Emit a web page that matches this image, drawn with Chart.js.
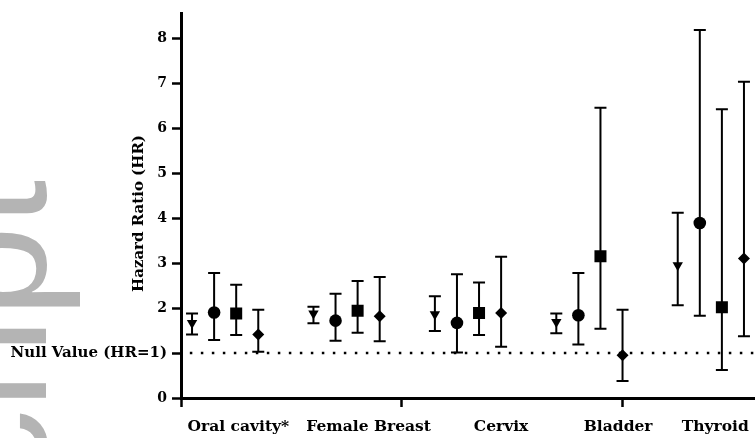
<!DOCTYPE html>
<html>
<head>
<meta charset="utf-8">
<script src="https://cdn.jsdelivr.net/npm/chart.js@4"></script>
<style>
  html, body { margin: 0; padding: 0; background: #fff; }
  #wrap { width: 755px; height: 438px; position: relative; }
</style>
</head>
<body>
<div id="wrap"><canvas id="chart"></canvas></div>
<script>
// --- data ---
const categories = ['Oral cavity*', 'Female Breast', 'Cervix', 'Bladder', 'Thyroid'];
const yTicks = [0, 1, 2, 3, 4, 5, 6, 7, 8];
const nullLabel = 'Null Value (HR=1)';

// series 1 (down triangle)
const s1Hr = [1.67, 1.88, 1.86, 1.69, 2.95];
const s1Lo = [1.41, 1.66, 1.49, 1.44, 2.06];
const s1Hi = [1.88, 2.03, 2.26, 1.88, 4.12];
// series 2 (circle)
const s2Hr = [1.90, 1.72, 1.67, 1.84, 3.89];
const s2Lo = [1.29, 1.27, 1.01, 1.19, 1.83];
const s2Hi = [2.78, 2.32, 2.75, 2.78, 8.18];
// series 3 (square)
const s3Hr = [1.88, 1.94, 1.89, 3.15, 2.02];
const s3Lo = [1.40, 1.45, 1.40, 1.54, 0.62];
const s3Hi = [2.52, 2.60, 2.57, 6.45, 6.42];
// series 4 (diamond)
const s4Hr = [1.41, 1.82, 1.89, 0.95, 3.10];
const s4Lo = [1.03, 1.26, 1.14, 0.38, 1.37];
const s4Hi = [1.96, 2.69, 3.14, 1.96, 7.03];

// x layout: groups 5.5 units apart, one unit between series
const groupStep = 5.5, groupStart = 0.5;
const xOf = (g, s) => groupStart + g * groupStep + s;

const serif = "'DejaVu Serif', 'Liberation Serif', serif";

function series(idx, hr, lo, hi, style, radius, rot) {
  return {
    type: 'scatter',
    data: hr.map((v, g) => ({ x: xOf(g, idx), y: v })),
    errLo: lo,
    errHi: hi,
    pointStyle: style,
    pointRadius: radius,
    pointHoverRadius: radius,
    rotation: rot || 0,
    backgroundColor: '#000',
    borderColor: '#000',
    borderWidth: 0
  };
}

// whiskers drawn through the chart scales
const errorBars = {
  id: 'errorBars',
  afterDatasetsDraw(chart) {
    const { ctx, scales: { x, y } } = chart;
    ctx.save();
    ctx.strokeStyle = '#000';
    ctx.lineWidth = 2;
    chart.data.datasets.forEach(ds => {
      if (!ds.errLo) return;
      ds.data.forEach((p, i) => {
        const px = x.getPixelForValue(p.x);
        const top = y.getPixelForValue(ds.errHi[i]);
        const bot = y.getPixelForValue(ds.errLo[i]);
        ctx.beginPath();
        ctx.moveTo(px, top); ctx.lineTo(px, bot);
        ctx.moveTo(px - 6, top); ctx.lineTo(px + 6, top);
        ctx.moveTo(px - 6, bot); ctx.lineTo(px + 6, bot);
        ctx.stroke();
      });
    });
    ctx.restore();
  }
};

// faint manuscript watermark on the left
const watermark = {
  id: 'watermark',
  beforeDraw(chart) {
    const ctx = chart.ctx;
    ctx.save();
    ctx.fillStyle = '#b4b4b4';
    ctx.font = "165px 'Liberation Sans', Arial, sans-serif";
    ctx.textAlign = 'right';
    ctx.textBaseline = 'alphabetic';
    ctx.translate(46, 180);
    ctx.rotate(-Math.PI / 2);
    ctx.fillText('Manuscript', 0, 0);
    ctx.restore();
  }
};

const xMax = 26;
const labelAt = [2.6, 8.5, 14.5, 19.8, 24.2];
const xMarks = [0, 10, 20];

new Chart(document.getElementById('chart'), {
  data: {
    datasets: [
      {
        type: 'line',
        data: [{ x: 0.4, y: 1 }, { x: xMax, y: 1 }],
        borderColor: '#000',
        borderWidth: 2.5,
        borderDash: [2.5, 8.5],
        pointRadius: 0
      },
      series(0, s1Hr, s1Lo, s1Hi, 'triangle', 6, 180),
      series(1, s2Hr, s2Lo, s2Hi, 'circle', 6.3),
      series(2, s3Hr, s3Lo, s3Hi, 'rect', 8.5),
      series(3, s4Hr, s4Lo, s4Hi, 'rectRot', 6)
    ]
  },
  options: {
    responsive: true,
    maintainAspectRatio: false,
    animation: false,
    layout: { autoPadding: false, padding: { top: 13, left: 0, right: 0, bottom: 0 } },
    plugins: { legend: { display: false }, tooltip: { enabled: false } },
    scales: {
      x: {
        type: 'linear',
        min: 0,
        max: xMax,
        afterFit(scale) {
          scale.height = 40;
          // axis runs off the right edge like the cropped original
          scale.paddingLeft = 0;
          scale.paddingRight = 0;
        },
        afterBuildTicks(scale) {
          // tick marks at 0/10/20, category names at their own spots
          scale.ticks = xMarks.concat(labelAt).sort((a, b) => a - b).map(v => ({ value: v }));
        },
        ticks: {
          autoSkip: false,
          maxRotation: 0,
          padding: 11,
          color: '#000',
          font: { family: serif, size: 15.5, weight: 'bold' },
          callback(v) {
            const i = labelAt.indexOf(v);
            return i >= 0 ? categories[i] : '';
          }
        },
        grid: {
          drawOnChartArea: false,
          drawTicks: true,
          tickLength: 9,
          tickWidth: 2.5,
          tickColor: ctx => (ctx.tick && xMarks.includes(ctx.tick.value)) ? '#000' : 'rgba(0,0,0,0)'
        },
        border: { display: true, color: '#000', width: 3 }
      },
      y: {
        type: 'linear',
        min: 0,
        max: 8.55,
        afterFit(scale) { scale.width = 181; },
        afterBuildTicks(scale) {
          scale.ticks = yTicks.map(v => ({ value: v }));
        },
        ticks: {
          padding: 5,
          color: '#000',
          font: ctx => ({ family: serif, size: (ctx.tick && ctx.tick.value === 1) ? 15 : 14, weight: 'bold' }),
          callback(v) { return v === 1 ? nullLabel : String(v); }
        },
        title: {
          display: true,
          text: 'Hazard Ratio (HR)   ',
          color: '#000',
          font: { family: serif, size: 15, weight: 'bold' },
          padding: { top: 130, bottom: 0 }
        },
        grid: {
          drawOnChartArea: false,
          drawTicks: true,
          tickLength: 9,
          tickWidth: 2.5,
          tickColor: '#000'
        },
        border: { display: true, color: '#000', width: 3 }
      }
    }
  },
  plugins: [watermark, errorBars]
});
</script>
</body>
</html>
